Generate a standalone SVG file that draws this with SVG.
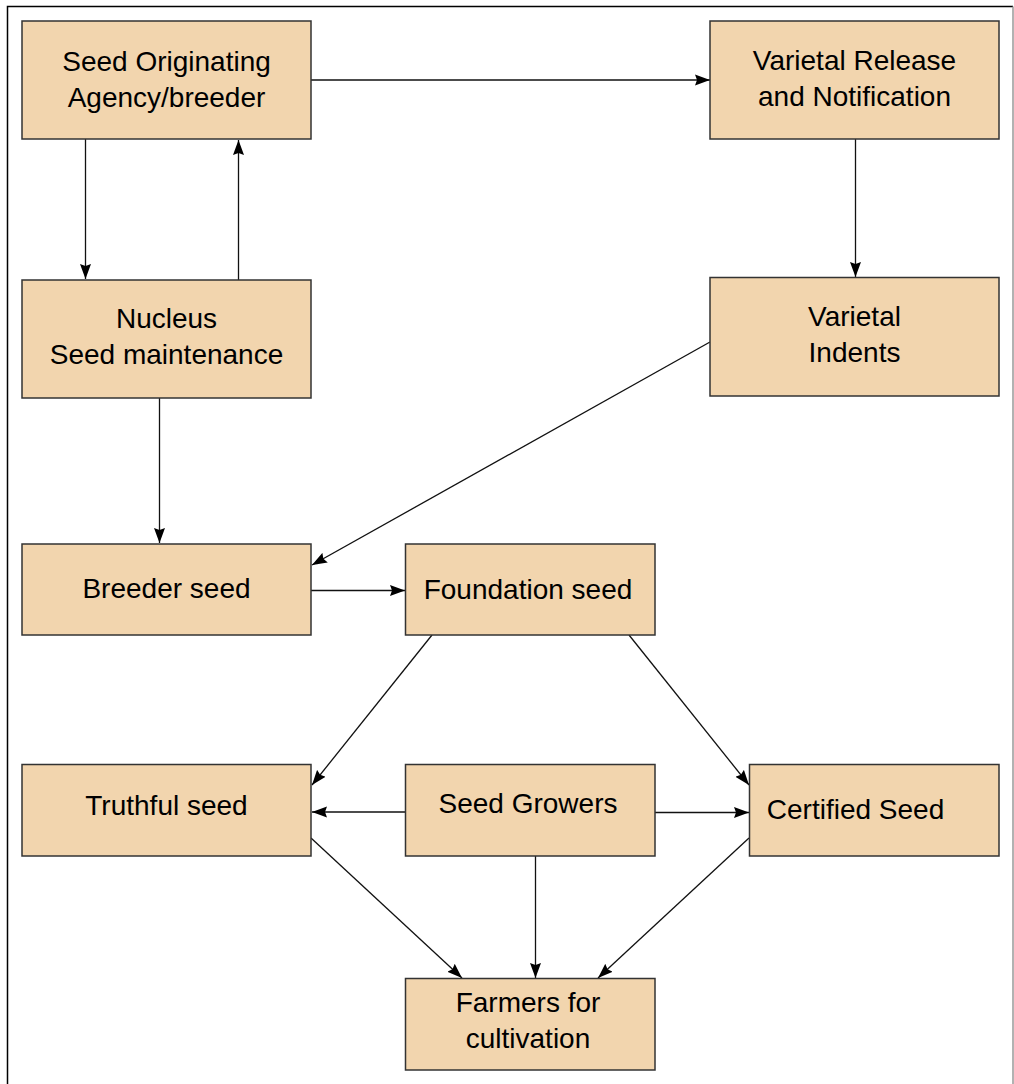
<svg xmlns="http://www.w3.org/2000/svg" width="1014" height="1084" viewBox="0 0 1014 1084">
<defs>
<style>
.box{fill:#F2D5AE;stroke:#333;stroke-width:1.5}
.t{font-family:"Liberation Sans",Arial,sans-serif;font-size:28px;fill:#000;text-anchor:middle}
.c{stroke:#111;stroke-width:1.3;fill:none;marker-end:url(#ah)}
</style>
<marker id="ah" markerUnits="userSpaceOnUse" markerWidth="16" markerHeight="12" refX="15" refY="6" orient="auto" viewBox="0 0 16 12">
<path d="M0,0.5 L15,6 L0,11.5 L2,6 z" fill="#000"/>
</marker>
</defs>
<rect x="0" y="0" width="1014" height="1084" fill="#fff"/>
<path d="M7.5,1090 V6.5 H1013" fill="none" stroke="#000" stroke-width="1.5"/>
<path d="M1013,6.5 V1090" fill="none" stroke="#999" stroke-width="1.5"/>

<g id="connectors">
<line class="c" x1="311" y1="80" x2="710" y2="80"/>
<line class="c" x1="85.5" y1="139" x2="85.5" y2="279"/>
<line class="c" x1="238.5" y1="280" x2="238.5" y2="140"/>
<line class="c" x1="855.5" y1="139" x2="855.5" y2="277"/>
<line class="c" x1="710" y1="342" x2="312" y2="565"/>
<line class="c" x1="159.5" y1="398" x2="159.5" y2="543"/>
<line class="c" x1="311" y1="590.5" x2="405" y2="590.5"/>
<line class="c" x1="432" y1="635" x2="312" y2="785"/>
<line class="c" x1="629" y1="635" x2="749" y2="785"/>
<line class="c" x1="405" y1="812" x2="312" y2="812"/>
<line class="c" x1="655" y1="812.5" x2="749" y2="812.5"/>
<line class="c" x1="311" y1="838" x2="462" y2="978"/>
<line class="c" x1="535.5" y1="856" x2="535.5" y2="978"/>
<line class="c" x1="749" y1="838" x2="598" y2="978"/>
</g>

<g id="seed-originating">
<rect class="box" x="22" y="21" width="289" height="118"/>
<text class="t" x="166.5" y="71">Seed Originating</text>
<text class="t" x="166.5" y="107">Agency/breeder</text>
</g>
<g id="varietal-release">
<rect class="box" x="710" y="21" width="289" height="118"/>
<text class="t" x="854.5" y="69.5">Varietal Release</text>
<text class="t" x="854.5" y="106">and Notification</text>
</g>
<g id="nucleus">
<rect class="box" x="22" y="280" width="289" height="118"/>
<text class="t" x="166.5" y="328">Nucleus</text>
<text class="t" x="166.5" y="364">Seed maintenance</text>
</g>
<g id="varietal-indents">
<rect class="box" x="710" y="277.5" width="289" height="118.5"/>
<text class="t" x="854.5" y="326">Varietal</text>
<text class="t" x="854.5" y="362">Indents</text>
</g>
<g id="breeder-seed">
<rect class="box" x="22" y="544" width="289" height="91"/>
<text class="t" x="166.5" y="598">Breeder seed</text>
</g>
<g id="foundation-seed">
<rect class="box" x="405.5" y="544" width="249.5" height="91"/>
<text class="t" x="528" y="599">Foundation seed</text>
</g>
<g id="truthful-seed">
<rect class="box" x="22" y="764.5" width="289" height="91.5"/>
<text class="t" x="166.5" y="815">Truthful seed</text>
</g>
<g id="seed-growers">
<rect class="box" x="405.5" y="764.5" width="249.5" height="91.5"/>
<text class="t" x="528" y="813">Seed Growers</text>
</g>
<g id="certified-seed">
<rect class="box" x="749.5" y="764.5" width="249.5" height="91.5"/>
<text class="t" x="855.5" y="819">Certified Seed</text>
</g>
<g id="farmers">
<rect class="box" x="405.5" y="978.5" width="249.5" height="91.5"/>
<text class="t" x="528" y="1012">Farmers for</text>
<text class="t" x="528" y="1048">cultivation</text>
</g>
</svg>
